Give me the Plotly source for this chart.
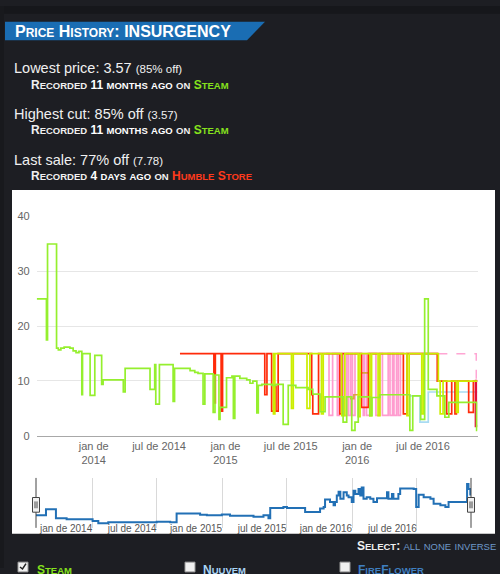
import plotly.graph_objects as go

# --- price data ---
steam_dates = [
    "2013-07-27", "2013-08-23", "2013-08-26", "2013-09-20", "2013-09-25", "2013-10-02",
    "2013-10-11", "2013-10-27", "2013-11-05", "2013-11-13", "2013-11-21", "2013-11-29",
    "2013-12-01", "2013-12-22", "2014-01-04", "2014-01-23", "2014-01-27", "2014-03-24",
    "2014-03-29", "2014-06-06", "2014-06-19", "2014-06-22", "2014-07-02", "2014-08-09",
    "2014-08-13", "2014-09-25", "2014-10-08", "2014-10-17", "2014-10-31", "2014-11-05",
    "2014-11-28", "2014-12-03", "2014-12-14", "2014-12-17", "2015-01-04", "2015-01-19",
    "2015-01-23", "2015-01-27", "2015-02-10", "2015-03-01", "2015-03-10", "2015-03-18",
    "2015-03-29", "2015-04-02", "2015-04-12", "2015-05-10", "2015-05-21", "2015-06-10",
    "2015-06-24", "2015-07-15", "2015-08-18", "2015-08-31", "2015-09-20", "2015-10-04",
    "2015-11-23", "2015-12-03", "2015-12-17", "2015-12-26", "2016-01-04", "2016-02-05",
    "2016-02-11", "2016-03-04", "2016-05-26", "2016-06-03", "2016-06-25", "2016-07-06",
    "2016-07-16", "2016-08-09", "2016-08-31", "2016-09-11", "2016-11-27", "2016-11-29",
]
steam_prices = [
    24.99, 17.49, 34.99, 15.99, 15.69, 15.99,
    16.19, 15.99, 15.49, 15.19, 15.39, 7.49,
    14.99, 7.39, 14.69, 9.39, 10.19, 7.99,
    12.29, 8.49, 12.99, 5.79, 12.99, 6.29,
    12.29, 11.89, 11.59, 11.39, 5.79, 11.29,
    4.29, 11.09, 2.99, 5.19, 10.59, 10.89,
    3.19, 10.89, 10.49, 10.19, 9.59, 9.99,
    4.19, 9.19, 9.39, 9.19, 9.39, 2.09,
    9.19, 8.79, 8.49, 7.59, 4.39, 7.09,
    2.49, 7.09, 0.99, 2.49, 7.09, 3.69,
    6.99, 7.49, 0.99, 7.29, 2.99, 24.99,
    8.49, 7.29, 3.39, 6.09, 0.99, 0.99,
]

humble_dates = [
    "2014-08-28", "2014-11-30", "2014-12-04", "2014-12-20", "2014-12-24", "2015-04-20",
    "2015-04-26", "2015-05-09", "2015-05-15", "2015-05-21", "2015-05-27", "2015-08-28",
    "2015-08-31", "2015-09-16", "2015-11-14", "2015-11-20", "2016-01-13", "2016-02-01",
    "2016-05-08", "2016-05-18", "2016-08-10", "2016-09-05", "2016-09-19", "2016-09-28",
    "2016-10-02", "2016-11-05", "2016-11-18", "2016-11-29",
]
humble_prices = [
    14.99, 5.99, 14.99, 4.49, 14.99, 7.49,
    14.99, 4.49, 8.99, 4.49, 14.99, 7.49,
    3.99, 14.99, 3.99, 14.99, 5.19, 14.99,
    3.99, 14.99, 9.99, 3.99, 9.99, 3.99,
    9.99, 4.29, 9.99, 9.99,
]

humble_last_dates = ["2016-11-22", "2016-11-25", "2016-11-29"]
humble_last_prices = [9.99, 1.79, 1.79]

lime_dates = [
    "2015-05-12", "2015-05-14", "2015-05-18", "2015-07-03", "2015-07-08", "2015-08-15",
    "2015-08-23", "2015-09-24", "2015-09-29", "2015-11-19", "2015-11-28", "2016-01-04",
    "2016-01-09", "2016-02-05", "2016-02-10", "2016-02-28", "2016-03-04", "2016-05-18",
    "2016-05-24", "2016-06-28", "2016-07-03", "2016-08-13", "2016-08-18", "2016-08-26",
    "2016-10-02", "2016-10-07", "2016-11-29",
]
lime_prices = [
    14.99, 3.99, 14.99, 4.99, 14.99, 4.99,
    14.99, 3.99, 14.99, 3.69, 14.99, 3.49,
    14.99, 3.69, 14.99, 3.69, 14.99, 3.69,
    14.99, 3.99, 14.99, 9.99, 3.99, 9.99,
    4.29, 9.99, 9.99,
]

pink_dates = [
    "2015-10-07", "2015-10-15", "2015-10-25", "2015-11-07", "2015-11-12", "2015-11-25",
    "2015-12-03", "2015-12-08", "2015-12-14", "2015-12-19", "2015-12-26", "2016-01-18",
    "2016-01-21", "2016-01-27", "2016-02-05", "2016-02-22", "2016-03-04", "2016-03-11",
    "2016-03-27", "2016-04-01", "2016-04-08", "2016-04-12", "2016-04-19", "2016-04-24",
    "2016-04-30", "2016-08-13",
]
pink_prices = [
    14.99, 3.74, 14.99, 3.74, 14.99, 3.74,
    14.99, 3.74, 14.99, 3.74, 14.99, 3.74,
    14.99, 3.74, 14.99, 3.74, 14.99, 3.74,
    14.99, 3.74, 14.99, 3.74, 14.99, 3.74,
    14.99, 14.99,
]
pink_tail_dates = ["2016-08-13", "2016-11-26", "2016-11-29"]
pink_tail_prices = [14.99, 9.99, 9.99]

blue_dates = ["2016-05-26", "2016-06-23", "2016-07-16", "2016-11-29"]
blue_prices = [7.29, 2.49, 7.99, 7.99]

tan_dates = ["2015-12-12", "2015-12-23", "2016-01-11", "2016-02-03"]
tan_prices = [6.79, 7.49, 11.49, 11.49]

# navigator series (relative height)
nav_dates = [
    "2013-07-27", "2013-08-24", "2013-09-21", "2013-10-21", "2014-01-02", "2014-01-18",
    "2014-02-15", "2014-07-01", "2014-08-08", "2014-08-26", "2014-10-31", "2014-11-19",
    "2014-12-31", "2015-01-23", "2015-03-30", "2015-04-27", "2015-05-11", "2015-05-16",
    "2015-06-22", "2015-07-02", "2015-08-22", "2015-09-10", "2015-10-03", "2015-10-13",
    "2015-10-17", "2015-10-31", "2015-11-10", "2015-11-14", "2015-11-19", "2015-11-24",
    "2015-11-29", "2015-12-08", "2015-12-17", "2015-12-22", "2015-12-31", "2016-01-05",
    "2016-01-10", "2016-01-19", "2016-01-24", "2016-01-28", "2016-02-02", "2016-02-11",
    "2016-02-21", "2016-03-01", "2016-03-11", "2016-04-08", "2016-04-12", "2016-04-22",
    "2016-04-26", "2016-05-10", "2016-05-15", "2016-06-22", "2016-06-29", "2016-07-06",
    "2016-07-20", "2016-08-08", "2016-08-17", "2016-09-05", "2016-09-19", "2016-09-28",
    "2016-11-14", "2016-11-19", "2016-11-23", "2016-11-28",
]
nav_values = [
    13.3, 19.3, 10.0, 9.0, 7.3, 5.0,
    6.0, 6.6, 6.0, 15.0, 13.6, 13.3,
    14.0, 12.6, 11.6, 13.3, 10.0, 20.6,
    21.6, 20.6, 16.6, 16.6, 20.0, 21.6,
    29.3, 26.6, 23.3, 26.6, 33.3, 37.3,
    30.0, 36.6, 33.3, 31.6, 26.6, 38.3,
    35.0, 40.0, 33.3, 41.6, 30.0, 31.6,
    30.0, 26.6, 30.6, 36.6, 30.0, 35.0,
    30.0, 35.0, 40.6, 40.0, 21.6, 34.0,
    31.6, 30.0, 25.0, 23.3, 21.6, 26.6,
    26.6, 45.0, 40.0, 33.3,
]

tick_dates = ["2014-01-01", "2014-07-01", "2015-01-01", "2015-07-01", "2016-01-01", "2016-07-01"]
tick_text_main = ["jan de<br>2014", "jul de 2014", "jan de<br>2015", "jul de 2015",
                  "jan de<br>2016", "jul de 2016"]
tick_text_nav = ["jan de 2014", "jul de 2014", "jan de 2015", "jul de 2015",
                 "jan de 2016", "jul de 2016"]
date_range = ["2013-07-27", "2016-11-30"]

W, H = 500, 574
FONT = "Liberation Sans, Arial, sans-serif"
PAGE_BG = "#1d1e23"


def px(x):
    return x / W


def py(y):
    return 1 - y / H


def sc(text, big, small):
    # fake small caps: lowercase letters become smaller capitals
    out, run, low = [], "", None
    for ch in text + "\0":
        is_low = ch.islower()
        if ch == "\0" or (low is not None and is_low != low):
            if run:
                out.append(f"<span style='font-size:{small}px'>{run.upper()}</span>" if low else run)
            run = ""
        run += ch
        low = is_low
    return "".join(out)


fig = go.Figure()


def step(x, y, color, width=1.7, dash=None, xa="x", ya="y"):
    fig.add_trace(go.Scatter(
        x=x, y=y, mode="lines", line=dict(color=color, width=width, shape="hv", dash=dash),
        xaxis=xa, yaxis=ya, hoverinfo="skip", showlegend=False
    ))


step(pink_dates, pink_prices, "#ff9ccf")
step(pink_tail_dates, pink_tail_prices, "#ffa6d4", width=1.5, dash="dash")
step(blue_dates, blue_prices, "#a9dbf2")
step(tan_dates, tan_prices, "#d9a441")
step(humble_dates, humble_prices, "#ff2b0a")
step(humble_last_dates, humble_last_prices, "#e0103c", width=2.5)
step(lime_dates, lime_prices, "#ccee00")
step(steam_dates, steam_prices, "#95ef2e")
step(nav_dates, nav_values, "#2270b5", width=2, xa="x2", ya="y2")

shapes = [
    # dark page bands
    dict(type="rect", xref="paper", yref="paper", x0=0, x1=1, y0=py(8), y1=1,
         fillcolor="#16171b", line_width=0, layer="below"),
    dict(type="rect", xref="paper", yref="paper", x0=0, x1=px(4), y0=0, y1=1,
         fillcolor="#18191d", line_width=0, layer="below"),
    # white chart panel
    dict(type="rect", xref="paper", yref="paper", x0=px(12), x1=px(495), y0=py(539), y1=py(188),
         fillcolor="white", line_width=0, layer="below"),
    # title banner
    dict(type="path", xref="paper", yref="paper",
         path=f"M {px(5)} {py(16)} L {px(265)} {py(16)} L {px(247)} {py(35)} L {px(5)} {py(35)} Z",
         fillcolor="#1a6db3", line_width=0, layer="below"),
]

# navigator handles
for hx in (36, 471):
    shapes.append(dict(type="line", xref="paper", yref="paper", x0=px(hx), x1=px(hx),
                       y0=py(533), y1=py(482), line=dict(color="#444", width=1)))
    shapes.append(dict(type="rect", xref="paper", yref="paper", x0=px(hx - 3.5), x1=px(hx + 3.5),
                       y0=py(517), y1=py(502), fillcolor="#f2f2f2", line=dict(color="#444", width=1)))
    for dx in (-1, 1):
        shapes.append(dict(type="line", xref="paper", yref="paper", x0=px(hx + dx), x1=px(hx + dx),
                           y0=py(513), y1=py(506), line=dict(color="#444", width=1)))

# legend checkboxes (cut off at the bottom)
for cx in (18, 185, 340):
    shapes.append(dict(type="rect", xref="paper", yref="paper", x0=px(cx), x1=px(cx + 10),
                       y0=py(578), y1=py(568), fillcolor="#f0f0f0", line=dict(color="#999", width=1)))
shapes.append(dict(type="path", xref="paper", yref="paper",
                   path=f"M {px(20)} {py(573)} L {px(22.5)} {py(575)} L {px(26)} {py(569.5)}",
                   line=dict(color="#222", width=1.5)))

WHITE = "#f0f0f0"
GREEN = "#86e21d"
RED = "#ff3a1c"
BIG, SMALL = 12, 9.5


def note(x, y, text, size=13, color=WHITE, anchor="left"):
    return dict(xref="paper", yref="paper", x=px(x), y=py(y), text=text, showarrow=False,
                xanchor=anchor, yanchor="middle", font=dict(family=FONT, size=size, color=color))


def rec(when, store, store_color):
    return ("<b>" + sc("Recorded ", BIG, SMALL) + "<span style='color:#ffffff'>" + sc(when, BIG, SMALL)
            + "</span> " + sc("on ", BIG, SMALL)
            + f"<span style='color:{store_color}'>" + sc(store, BIG, SMALL) + "</span></b>")


annotations = [
    note(13, 26, "<b>" + sc("Price History: ", 16, 12) + "INSURGENCY</b>", size=16, color="#ffffff"),
    note(12, 63, "Lowest price: 3.57 <span style='font-size:11.5px'>(85% off)</span>", size=14.5),
    note(29, 80.5, rec("11 months ago", "Steam", GREEN), size=BIG),
    note(12, 110, "Highest cut: 85% off <span style='font-size:11.5px'>(3.57)</span>", size=14.5),
    note(29, 127, rec("11 months ago", "Steam", GREEN), size=BIG),
    note(12, 157, "Last sale: 77% off <span style='font-size:11.5px'>(7.78)</span>", size=14.5),
    note(29, 174, rec("4 days ago", "Humble Store", RED), size=BIG),
    note(498, 552, "<b>" + sc("Select: ", BIG, SMALL) + "</b><span style='color:#6d98c8'>"
         + sc("all none inverse", BIG, 9.5) + "</span>", size=BIG, anchor="right"),
    note(35, 576, "<b><span style='color:" + GREEN + "'>" + sc("Steam", BIG, SMALL) + "</span></b>", size=BIG),
    note(201, 576, "<b><span style='color:#a9d4f5'>" + sc("Nuuvem", BIG, SMALL) + "</span></b>", size=BIG),
    note(356, 576, "<b><span style='color:#3f7fc0'>" + sc("FireFlower", BIG, SMALL) + "</span></b>", size=BIG),
]

fig.update_layout(
    width=W, height=H, margin=dict(l=0, r=0, t=0, b=0),
    paper_bgcolor=PAGE_BG, plot_bgcolor="white",
    font=dict(family=FONT, color="#666666", size=11),
    showlegend=False, shapes=shapes, annotations=annotations,
    xaxis=dict(domain=[px(36.7), px(477.7)], type="date", range=date_range,
               tickvals=tick_dates, ticktext=tick_text_main, showgrid=False, zeroline=False,
               showline=True, linecolor="#a8a8a8", linewidth=1, ticks="",
               tickfont=dict(size=11, color="#666666"), anchor="y", fixedrange=True),
    yaxis=dict(domain=[py(439), py(215)], range=[0, 40], dtick=10, gridcolor="#e6e6e6",
               zeroline=False, showline=False, ticks="", ticklabelstandoff=6,
               tickfont=dict(size=11, color="#666666"), anchor="x", fixedrange=True),
    xaxis2=dict(domain=[px(36), px(471)], type="date", range=date_range,
                tickvals=tick_dates, ticktext=tick_text_nav, showgrid=True, gridcolor="#d9d9d9",
                zeroline=False, showline=False, ticks="", ticklabelposition="inside left",
                ticklabelstandoff=-12,
                tickfont=dict(size=10, color="#555555"), anchor="y2", fixedrange=True),
    yaxis2=dict(domain=[py(533.3), py(481.7)], range=[0, 51.6], visible=False,
                anchor="x2", fixedrange=True),
)

# the page's default body margin would shift the figure by 8px
fig.write_html("out.html", config={"displayModeBar": False}, post_script=(
    f"document.body.style.margin='0';document.body.style.background='{PAGE_BG}';"
))
